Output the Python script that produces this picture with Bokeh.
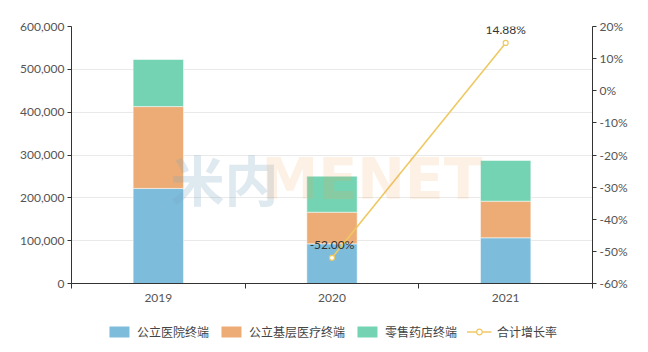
from bokeh.plotting import figure
from bokeh.layouts import column
from bokeh.models import (Range1d, LinearAxis, FixedTicker, SingleIntervalTicker,
                          NumeralTickFormatter, PrintfTickFormatter, Legend, LegendItem,
                          ColumnDataSource, Label)
from bokeh.core.properties import value
from bokeh.embed import file_html
from bokeh.resources import INLINE

# ---- data ----
years = ["2019", "2020", "2021"]
series_names = ["公立医院终端", "公立基层医疗终端", "零售药店终端"]
public_hospital = [222000, 92700, 106700]
grassroots = [191000, 73800, 85500]
retail = [110000, 84000, 95000]
growth = [float("nan"), -52.00, 14.88]
growth_labels = ["", "-52.00%", "14.88%"]
line_name = "合计增长率"

colors = ["#7ebcdb", "#edac75", "#74d3b2"]
line_color = "#efc862"
num_font = "Lato"
cjk_font = "Noto Sans CJK SC"

xs = [i + 0.5 for i in range(len(years))]
src = ColumnDataSource(dict(x=xs, s0=public_hospital, s1=grassroots, s2=retail,
                            g=growth, gl=growth_labels))

p = figure(width=648, height=310, output_backend="svg", toolbar_location=None,
           x_range=Range1d(0, len(years)), y_range=Range1d(0, 600000),
           min_border_left=71, min_border_right=56, min_border_top=26, min_border_bottom=27)
p.outline_line_color = None
p.background_fill_color = "white"
p.xgrid.grid_line_color = None
p.ygrid.grid_line_color = "#e9e9e9"
p.ygrid.ticker = SingleIntervalTicker(interval=100000)

p.extra_y_ranges = {"rate": Range1d(-60, 20)}

# axes
xa = p.xaxis[0]
xa.ticker = FixedTicker(ticks=xs, minor_ticks=list(range(len(years) + 1)))
xa.major_label_overrides = {x: y for x, y in zip(xs, years)}
xa.major_tick_line_color = None
xa.minor_tick_line_color = "#333333"
xa.minor_tick_out = 5
xa.minor_tick_in = 0
xa.axis_line_color = "#333333"
xa.major_label_text_font = num_font
xa.major_label_text_font_size = "12px"
xa.major_label_text_color = "#555555"
xa.major_label_standoff = 4

ya = p.yaxis[0]
ya.ticker = SingleIntervalTicker(interval=100000)
ya.formatter = NumeralTickFormatter(format="0,0")
ya.minor_tick_line_color = None
ya.major_tick_out = 4
ya.major_tick_in = 0
ya.axis_line_color = "#333333"
ya.major_tick_line_color = "#333333"
ya.major_label_text_font = num_font
ya.major_label_text_font_size = "12px"
ya.major_label_text_color = "#555555"
ya.major_label_standoff = 3

ra = LinearAxis(y_range_name="rate", ticker=SingleIntervalTicker(interval=10),
                formatter=PrintfTickFormatter(format="%d%%"))
ra.minor_tick_line_color = None
ra.major_tick_out = 4
ra.major_tick_in = 0
ra.axis_line_color = "#333333"
ra.major_tick_line_color = "#333333"
ra.major_label_text_font = num_font
ra.major_label_text_font_size = "12px"
ra.major_label_text_color = "#555555"
ra.major_label_standoff = 3
p.add_layout(ra, "right")

# bars
bars = p.vbar_stack(["s0", "s1", "s2"], x="x", width=0.29, source=src,
                    color=colors, line_color="white", line_alpha=0.5, line_width=1)

# watermark
wm1 = Label(x=99, y=105, x_units="screen", y_units="screen", text="米内",
            text_font=cjk_font, text_font_style="bold", text_font_size="54px",
            text_color="#7aa3c2", text_alpha=0.24, text_baseline="alphabetic")
wm2 = Label(x=190, y=105, x_units="screen", y_units="screen", text="MENET",
            text_font="DejaVu Sans", text_font_style="bold", text_font_size="57px",
            text_color="#f5a05a", text_alpha=0.16, text_baseline="alphabetic")
p.add_layout(wm1)
p.add_layout(wm2)

# growth line
ln = p.line("x", "g", source=src, y_range_name="rate", line_color=line_color, line_width=1.6)
pts = p.scatter("x", "g", source=src, y_range_name="rate", size=5,
                fill_color="white", line_color=line_color, line_width=1.2)
p.text("x", "g", text="gl", source=src, y_range_name="rate", y_offset=-6,
       text_align="center", text_baseline="bottom", text_font=value(num_font),
       text_font_size="12px", text_color="#333333")

# ---- legend strip (separate small figure below the chart) ----
lg = figure(width=648, height=42, output_backend="svg", toolbar_location=None,
            x_axis_type=None, y_axis_type=None, min_border=0, min_border_right=35,
            x_range=Range1d(0, 1), y_range=Range1d(0, 1))
lg.outline_line_color = None
lg.xgrid.grid_line_color = None
lg.ygrid.grid_line_color = None
# proxy renderers placed far below the visible canvas, used only for legend glyphs
proxy = ColumnDataSource(dict(x=[0.5], y=[-5], top=[-5], bottom=[-6]))
leg_renderers = []
for c in colors:
    r = lg.vbar(x="x", top="top", bottom="bottom", width=0.1, source=proxy,
                fill_color=c, line_color=None)
    leg_renderers.append([r])
lr = lg.line("x", "y", source=proxy, line_color=line_color, line_width=1.6)
ls = lg.scatter("x", "y", source=proxy, size=11, fill_color="white",
                line_color=line_color, line_width=1.2)
leg_renderers.append([lr, ls])

names = series_names + [line_name]
items = [LegendItem(label=n, renderers=r) for n, r in zip(names, leg_renderers)]
legend = Legend(items=items, orientation="horizontal", location="center",
                border_line_color=None, background_fill_alpha=0,
                glyph_width=25, glyph_height=14, label_standoff=6, spacing=9,
                padding=2, margin=0, label_text_font=cjk_font,
                label_text_font_size="12px", label_text_color="#444444")
lg.add_layout(legend)

layout = column(p, lg, spacing=0)
open("out.html", "w").write(file_html(layout, INLINE))
